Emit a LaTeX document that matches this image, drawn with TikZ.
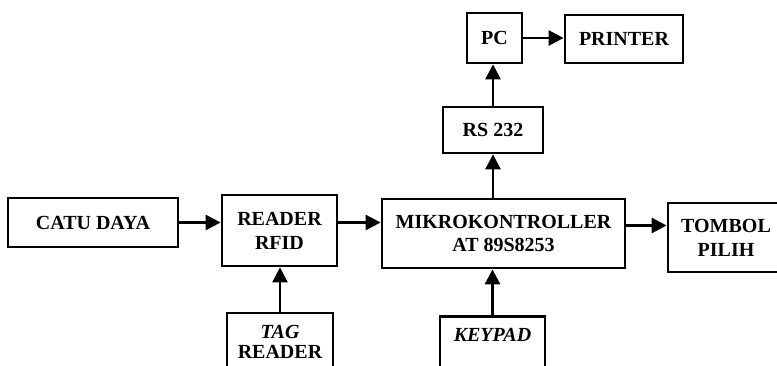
\documentclass[tikz,border=0pt]{standalone}
\usepackage{fontspec}
\setmainfont{Liberation Serif}
\usetikzlibrary{arrows.meta}

\begin{document}
\begin{tikzpicture}[x=1pt, y=-1pt, line width=2.8pt,
    >={Triangle[length=15pt,width=15pt]},
    blok/.style={draw, align=center, inner sep=0pt,
      font=\fontsize{20}{24}\selectfont\bfseries}]
  \useasboundingbox (0,0) rectangle (777,366);
  \node[blok, minimum width=170pt, minimum height=49pt] (catu) at (93,222.5)
    {CATU DAYA};
  \node[blok, minimum width=115pt, minimum height=71pt] (reader) at (279.5,230.5)
    {READER\\RFID};
  \node[blok, minimum width=106pt, minimum height=57pt] (tag) at (280,341.5)
    {{\itshape TAG}\\[-4pt]READER};
  \node[blok, minimum width=243pt, minimum height=69pt] (mikro) at (503.5,233.5)
    {MIKROKONTROLLER\\[-1pt]AT 89S8253};
  \node[blok, minimum width=105pt, anchor=north, inner ysep=4pt,
    text height=21pt, text depth=40pt] (keypad) at (492.5,315)
    {\itshape KEYPAD};
  \node[blok, minimum width=116pt, minimum height=69pt] (tombol) at (726,237.5)
    {TOMBOL\\PILIH};
  \node[blok, minimum width=100pt, minimum height=46pt] (rs) at (493,130)
    {RS 232};
  \node[blok, minimum width=55pt, minimum height=50pt] (pc) at (494.5,38)
    {PC};
  \node[blok, minimum width=118pt, minimum height=48pt] (printer) at (624,39)
    {PRINTER};
  % jalur sinyal
  \draw[->] (catu.east) -- (catu.east -| reader.west);
  \draw[->] ([yshift=8pt]reader.east) -- ([yshift=8pt]reader.east -| mikro.west);
  \draw[->] (tag.north) -- (tag.north |- reader.south);
  \draw[->] (keypad.north) -- (keypad.north |- mikro.south);
  \draw[->] ([yshift=8pt]mikro.east) -- ([yshift=8pt]mikro.east -| tombol.west);
  \draw[->] (rs.south |- mikro.north) -- (rs.south);
  \draw[->] (rs.north) -- (rs.north |- pc.south);
  \draw[->] (pc.east) -- (pc.east -| printer.west);
\end{tikzpicture}
\end{document}
